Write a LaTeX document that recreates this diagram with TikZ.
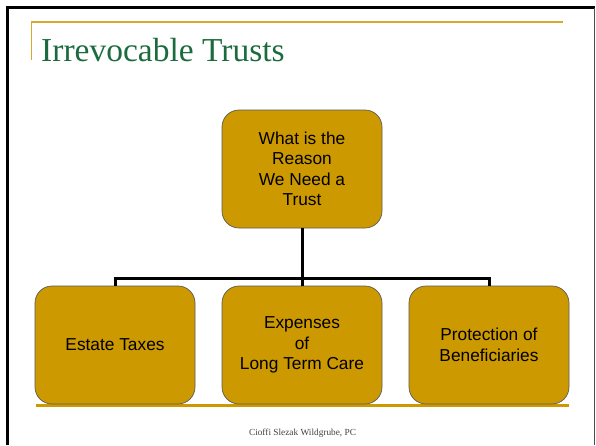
\documentclass[tikz,border=0pt]{standalone}
\usepackage{fontspec}
\setmainfont{Liberation Serif}
\setsansfont{Liberation Sans}
\definecolor{trustgold}{HTML}{CC9900}
\definecolor{rulegold}{HTML}{D9A82E}
\definecolor{titlegreen}{HTML}{1C6B3E}
\tikzset{
  reasonbox/.style={draw=black!65, line width=0.7pt, fill=trustgold, rounded corners=17pt,
    minimum width=160pt, minimum height=118pt, align=center,
    font=\sffamily\fontsize{17.3}{20.5}\selectfont}
}
\begin{document}
\begin{tikzpicture}[x=1pt,y=-1pt,
  level distance=176pt, sibling distance=187pt,
  edge from parent/.style={draw, line width=3pt},
  edge from parent path={(\tikzparentnode.south) -- +(0,50.5) -| (\tikzchildnode.north)}]
\useasboundingbox (0,0) rectangle (596,445);
% slide frame and rules
\draw[line width=3pt] (7.5,445) -- (7.5,7.5) -- (594.5,7.5);
\draw[black!70, line width=1pt] (594.5,7.5) -- (594.5,445);
\draw[rulegold, line width=1.2pt] (31.5,60) -- (31.5,22) -- (563,22);
\draw[trustgold, line width=2.2pt] (36,405.5) -- (569,405.5);
\node[anchor=base west, text=titlegreen, font=\fontsize{33.5}{33.5}\selectfont, inner sep=0pt] (title)
  at (41,61) {Irrevocable Trusts};
\node[text=black!75, font=\fontsize{9.3}{9.3}\selectfont] (footer) at (302.5,433) {Cioffi Slezak Wildgrube, PC};
% the tree
\node[reasonbox] (reason) at (302,169) {What is the\\Reason\\We Need a\\Trust}
  child {node[reasonbox] (taxes) {Estate Taxes}}
  child {node[reasonbox] (care) {Expenses\\of\\Long Term Care}}
  child {node[reasonbox] (heirs) {Protection of\\Beneficiaries}};
\end{tikzpicture}
\end{document}
